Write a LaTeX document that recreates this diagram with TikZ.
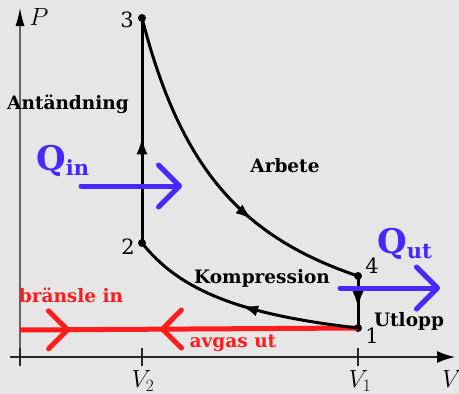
\documentclass[tikz,border=0pt]{standalone}
\usepackage{fontspec}
\newfontfamily\labfont{DejaVu Serif}
\usetikzlibrary{arrows.meta,decorations.markings}
\definecolor{bg}{RGB}{230,230,230}
\definecolor{qblue}{RGB}{72,40,255}
\definecolor{fred}{RGB}{255,28,28}
\tikzset{
  dot/.style={circle,fill=black,inner sep=0pt,minimum size=8pt},
  lbl/.style={font=\labfont\bfseries\fontsize{18.5}{20}\selectfont,inner sep=0pt},
  numlbl/.style={font=\labfont\fontsize{21}{22}\selectfont,inner sep=0pt},
  axlbl/.style={font=\fontsize{23}{24}\selectfont,inner sep=0pt},
  cyc/.style={line width=3pt,black},
  tipc/.tip={Latex[length=17pt,width=11pt]},
  qarrow/.style={qblue,line width=5pt,line cap=round,-{Straight Barb[length=21pt,width=42pt,round]}},
  redline/.style={fred,line width=5pt},
}
\begin{document}
\begin{tikzpicture}[x=1pt,y=-1pt]
\fill[bg] (0,0) rectangle (459,394);
\useasboundingbox (0,0) rectangle (459,394);
% axes
\coordinate (o) at (20,357);
\coordinate (ptop) at (20,8);
\coordinate (vleft) at (10,357);
\coordinate (vright) at (455,357);
\draw[gray!80!black,line width=1.3pt,-{Latex[length=18pt,width=9pt,color=black]}] (o) -- (ptop);
\draw[black!85,line width=1.6pt,-{Latex[length=18pt,width=12pt,color=black]}] (vleft) -- (vright);
\foreach \t in {20,142,358} \draw[black!85,line width=1.5pt] (\t,348) -- (\t,366);
\node[axlbl] (P) at (39,17) {$P$};
\node[axlbl] (V2) at (143,381) {$V_2$};
\node[axlbl] (V1) at (360,381) {$V_1$};
\node[axlbl] (V) at (452,379) {$V$};
% cycle points
\node[dot] (p3) at (142,18) {};
\node[dot] (p2) at (142,243) {};
\node[dot] (p4) at (358,276) {};
\node[dot] (p1) at (358,328) {};
\node[numlbl] (n3) at (127,20) {3};
\node[numlbl] (n2) at (128,247) {2};
\node[numlbl] (n4) at (372,266) {4};
\node[numlbl] (n1) at (372,336) {1};
% red line
\coordinate (rstart) at (20,330);
\draw[redline,postaction={decorate},decoration={markings,
  mark=at position 0.148 with {\arrow{Straight Barb[length=19pt,width=38pt,round]}},
  mark=at position 0.414 with {\arrowreversed{Straight Barb[length=19pt,width=38pt,round]}}}]
  (rstart) -- (p1.center);
% cycle
\draw[cyc,postaction={decorate},decoration={markings,mark=at position 0.47 with {\arrow{tipc}}}] (p2.center) -- (p3.center);
\draw[cyc,postaction={decorate},decoration={markings,mark=at position 0.66 with {\arrow{tipc}}}]
  plot[domain=142:358,samples=90] (\x,{357-339*exp(1.405*ln(122/(\x-20)))});
\draw[cyc,postaction={decorate},decoration={markings,mark=at position 0.62 with {\arrow{tipc}}}] (p4.center) -- (p1.center);
\draw[cyc,postaction={decorate},decoration={markings,mark=at position 0.50 with {\arrowreversed{tipc}}}]
  plot[domain=142:358,samples=90] (\x,{357-114*exp(1.344*ln(122/(\x-20)))});
% labels
\node[lbl] (ant) at (68,104) {Antändning};
\node[lbl] (arb) at (285,166) {Arbete};
\node[lbl] (komp) at (262,278) {Kompression};
\node[lbl] (utl) at (409,321) {Utlopp};
\node[lbl,text=fred] (bin) at (71,295) {bränsle in};
\node[lbl,text=fred] (aut) at (233,343) {avgas ut};
% heat
\node[font=\labfont\bfseries\fontsize{34}{36}\selectfont,text=qblue,inner sep=0pt,anchor=base west] (qin) at (36,170) {Q\raisebox{-5pt}{\fontsize{21}{22}\selectfont in}};
\node[font=\labfont\bfseries\fontsize{34}{36}\selectfont,text=qblue,inner sep=0pt,anchor=base west] (qout) at (377,253) {Q\raisebox{-5pt}{\fontsize{21}{22}\selectfont ut}};
\coordinate (qa1) at (81,186);
\coordinate (qa2) at (182,186);
\coordinate (qb1) at (340,288);
\coordinate (qb2) at (440,288);
\draw[qarrow] (qa1) -- (qa2);
\draw[qarrow] (qb1) -- (qb2);
\end{tikzpicture}
\end{document}
